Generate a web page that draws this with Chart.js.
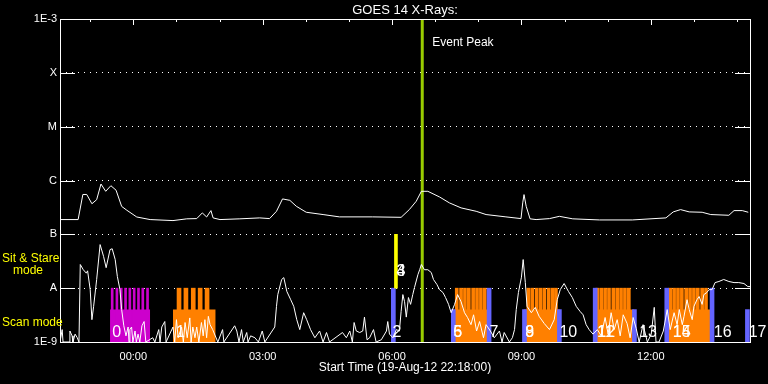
<!DOCTYPE html>
<html>
<head>
<meta charset="utf-8">
<script src="https://cdn.jsdelivr.net/npm/chart.js@4.4.1/dist/chart.umd.min.js"></script>
<style>
  html, body { margin: 0; padding: 0; background: #000; }
  canvas { display: block; }
</style>
</head>
<body>
<canvas id="goes" width="768" height="384"></canvas>
<script>
// time axis: hours from 00:00 UT 20-Aug-12 (plot starts 19-Aug-12 22:18)
const T_START = -1.7, T_END = 14.3;

// GOES 14, 1-8 A channel (W/m^2)
const longT = [-1.70,-1.28,-1.17,-1.08,-0.96,-0.85,-0.75,-0.64,-0.52,-0.40,
  -0.27,-0.15,0.08,0.39,0.92,1.24,1.47,1.60,1.70,1.80,
  1.85,2.01,2.47,2.93,3.16,3.32,3.46,3.63,3.78,4.01,
  4.40,4.78,5.55,6.21,6.40,6.56,6.68,6.83,7.10,7.33,
  7.60,7.95,8.18,8.64,8.99,9.03,9.06,9.11,9.20,9.34,
  9.65,9.88,10.19,10.81,11.57,12.35,12.52,12.69,12.89,13.19,
  13.39,13.81,13.93,14.12,14.26];
const longV = [1.88e-7,1.88e-7,5.5e-7,5.5e-7,3.7e-7,4.4e-7,8.6e-7,6.3e-7,8.0e-7,6.6e-7,
  3.3e-7,2.8e-7,2.1e-7,1.88e-7,1.80e-7,1.94e-7,1.96e-7,2.5e-7,2.1e-7,2.76e-7,
  2.02e-7,1.88e-7,1.94e-7,2.02e-7,1.96e-7,2.68e-7,4.55e-7,4.28e-7,3.32e-7,2.57e-7,
  2.33e-7,2.11e-7,2.11e-7,2.07e-7,2.88e-7,4.11e-7,6.3e-7,6.3e-7,4.95e-7,3.84e-7,
  3.10e-7,2.68e-7,2.33e-7,2.11e-7,1.96e-7,3.84e-7,5.47e-7,3.32e-7,1.94e-7,1.88e-7,
  1.96e-7,2.16e-7,1.94e-7,1.85e-7,1.85e-7,2.02e-7,2.61e-7,2.88e-7,2.61e-7,2.57e-7,
  2.33e-7,2.26e-7,2.76e-7,2.76e-7,2.57e-7];

// GOES 14, 0.5-4 A channel (W/m^2)
const shortT = [-1.70,-1.65,-1.63,-1.49,-1.47,-1.42,-1.40,-1.35,-1.30,-1.26,
  -1.23,-1.16,-1.09,-1.06,-1.00,-0.96,-0.92,-0.85,-0.77,-0.69,
  -0.63,-0.54,-0.49,-0.42,-0.37,-0.31,-0.27,-0.22,-0.17,-0.12,
  -0.10,-0.08,-0.04,-0.01,0.04,0.07,0.11,0.15,0.20,0.25,
  0.29,0.45,0.50,0.59,0.62,0.66,0.73,0.76,0.92,0.96,
  1.00,1.04,1.12,1.16,1.20,1.25,1.31,1.34,1.38,1.43,
  1.47,1.52,1.58,1.62,1.66,1.70,1.74,1.78,1.84,1.96,
  2.07,2.10,2.35,2.40,2.45,2.51,2.55,2.63,2.66,2.72,
  2.82,2.90,2.99,3.05,3.28,3.32,3.35,3.44,3.49,3.56,
  3.65,3.72,3.79,3.86,3.95,4.02,4.11,4.21,4.32,4.40,
  4.48,4.55,4.85,4.94,5.02,5.08,5.12,5.17,5.25,5.32,
  5.36,5.42,5.48,5.57,5.63,5.75,5.87,5.90,5.94,6.02,
  6.10,6.17,6.21,6.25,6.29,6.33,6.38,6.43,6.48,6.52,
  6.60,6.64,6.68,6.75,6.83,6.91,6.96,7.04,7.10,7.18,
  7.24,7.31,7.37,7.45,7.52,7.60,7.68,7.75,7.83,7.89,
  7.96,8.03,8.12,8.18,8.28,8.37,8.49,8.55,8.60,8.72,
  8.79,8.84,8.88,8.93,9.00,9.04,9.09,9.13,9.23,9.32,
  9.41,9.53,9.65,9.76,9.83,9.90,9.99,10.09,10.18,10.27,
  10.36,10.43,10.50,10.57,10.66,10.76,10.85,10.94,11.01,11.08,
  11.15,11.22,11.29,11.36,11.45,11.52,11.59,11.66,11.73,11.82,
  11.92,12.01,12.08,12.12,12.19,12.29,12.38,12.45,12.54,12.61,
  12.66,12.73,12.77,12.84,12.89,12.96,13.00,13.07,13.12,13.19,
  13.23,13.30,13.35,13.42,13.49,13.58,13.69,13.81,13.93,14.04,
  14.16,14.25,14.30];
const shortV = [1.0e-9,1.7e-9,1.0e-9,1.0e-9,1.6e-9,1.3e-9,1.0e-9,1.4e-9,1.2e-9,1.0e-9,
  2.75e-8,2.2e-8,1.9e-8,2.1e-8,9.4e-9,2.6e-9,4.6e-9,1.45e-8,6.45e-8,3.9e-8,
  2.4e-8,5.2e-8,5.4e-8,3.4e-8,1.65e-8,9.4e-9,4.0e-9,2.0e-9,1.3e-9,1.9e-9,
  1.0e-9,1.7e-9,1.9e-9,1.0e-9,1.6e-9,1.0e-9,1.4e-9,1.0e-9,2.0e-9,2.4e-9,
  1.0e-9,1.2e-9,1.0e-9,1.7e-9,1.0e-9,1.9e-9,2.4e-9,1.0e-9,1.9e-9,1.0e-9,
  2.6e-9,1.2e-9,1.9e-9,1.0e-9,2.3e-9,1.2e-9,2.8e-9,1.0e-9,1.9e-9,1.2e-9,
  1.9e-9,1.0e-9,2.3e-9,1.3e-9,2.6e-9,1.2e-9,3.0e-9,2.1e-9,1.7e-9,1.0e-9,
  1.7e-9,1.0e-9,2.0e-9,1.6e-9,1.0e-9,1.7e-9,1.0e-9,1.5e-9,1.0e-9,1.3e-9,
  1.2e-9,1.0e-9,1.6e-9,1.0e-9,1.9e-9,4.6e-9,7.6e-9,1.45e-8,1.57e-8,8.7e-9,
  6.1e-9,4.6e-9,2.6e-9,1.7e-9,3.5e-9,2.6e-9,1.7e-9,1.2e-9,1.6e-9,1.0e-9,
  1.5e-9,1.0e-9,1.5e-9,1.2e-9,1.6e-9,1.0e-9,2.3e-9,1.6e-9,1.5e-9,1.6e-9,
  2.9e-9,1.1e-9,1.2e-9,1.7e-9,1.0e-9,1.1e-9,1.6e-9,2.4e-9,1.4e-9,1.2e-9,
  1.7e-9,1.6e-9,3.7e-9,7.6e-9,5.6e-9,2.9e-9,6.7e-9,5.0e-9,7.6e-9,1.03e-8,
  1.79e-8,2.2e-8,2.75e-8,2.2e-8,2.2e-8,1.95e-8,1.45e-8,1.17e-8,9.4e-9,8.3e-9,
  6.7e-9,5.0e-9,3.5e-9,5.0e-9,7.6e-9,5.6e-9,3.5e-9,2.85e-9,2.1e-9,3.2e-9,
  1.6e-9,2.4e-9,1.2e-9,2.1e-9,1.6e-9,1.2e-9,1.6e-9,1.0e-9,1.5e-9,1.0e-9,
  1.2e-9,1.7e-9,4.0e-9,8.3e-9,1.6e-8,3.4e-8,1.27e-8,4.6e-9,3.5e-9,4.4e-9,
  3.0e-9,2.2e-9,1.7e-9,2.6e-9,6.1e-9,9.4e-9,1.22e-8,8.7e-9,6.7e-9,4.6e-9,
  3.7e-9,3.2e-9,2.1e-9,1.7e-9,1.4e-9,1.7e-9,1.3e-9,2.85e-9,1.4e-9,3.5e-9,
  1.7e-9,2.6e-9,1.3e-9,3.2e-9,2.2e-9,1.2e-9,2.85e-9,1.8e-9,1.0e-9,2.1e-9,
  1.0e-9,1.4e-9,4.4e-9,1.0e-9,1.0e-9,1.6e-9,4.0e-9,1.7e-9,3.5e-9,2.1e-9,
  4.0e-9,2.1e-9,3.0e-9,6.1e-9,4.0e-9,2.6e-9,4.6e-9,6.1e-9,7.0e-9,5.0e-9,
  7.6e-9,8.3e-9,9.4e-9,9.4e-9,1.27e-8,1.33e-8,1.45e-8,1.33e-8,1.27e-8,1.27e-8,
  1.22e-8,1.07e-8,1.07e-8];

// axes
const yTickVals = [1e-9, 1e-8, 1e-7, 1e-6, 1e-5, 1e-4, 1e-3];
const yTickLabels = ["1E-9", "A", "B", "C", "M", "X", "1E-3"];
const xTickVals = [0, 3, 6, 9, 12];
const xTickLabels = ["00:00", "03:00", "06:00", "09:00", "12:00"];

const eventPeakT = 6.70;

// observation timeline (levels on the flux axis)
const FLOOR = 1e-9, BASE = 4e-9, TOOTH = 1e-8;
const magentaSpans = [[-0.54, 0.39]];
const magentaTeeth = [-0.49, -0.38, -0.28, -0.18, -0.08, 0.02, 0.12, 0.22, 0.33];
const orangeSpans = [[0.92, 1.91], [7.40, 8.25], [9.05, 9.90], [10.73, 11.62], [12.40, 13.40]];
const orangeWideTeeth = [1.06, 1.22, 1.39, 1.55, 1.71];
const orangeTeeth = [7.50, 7.60, 7.69, 7.78, 7.88, 7.97, 8.06, 8.15,
  9.16, 9.25, 9.35, 9.44, 9.53, 9.63, 9.72, 9.80,
  10.76, 10.85, 10.94, 11.03, 11.13, 11.22, 11.31, 11.40, 11.49,
  12.45, 12.54, 12.63, 12.72, 12.82, 12.91, 13.00, 13.09, 13.19, 13.28];
const blueT = [6.03, 7.42, 8.25, 9.07, 9.88, 10.71, 11.62, 12.37, 13.42, 14.24];
const blueTop = [1e-8, 4e-9, 1e-8, 4e-9, 4e-9, 1e-8, 4e-9, 1e-8, 1e-8, 4e-9];
const yellowT = [6.09];
const yellowTop = [1e-7];

const obsLabels = ["0","1","2","3","4","5","6","7","8","9","10","11","12","13","14","15","16","17"];
const obsLabelT = [-0.49, 0.99, 6.01, 6.10, 6.10, 7.42, 7.42, 8.26, 9.09, 9.09,
  9.88, 10.76, 10.76, 11.73, 12.51, 12.51, 13.46, 14.27];
const obsLabelLevel = [1.5e-9, 1.5e-9, 1.5e-9, 2.0e-8, 2.0e-8, 1.5e-9, 1.5e-9, 1.5e-9, 1.5e-9, 1.5e-9,
  1.5e-9, 1.5e-9, 1.5e-9, 1.5e-9, 1.5e-9, 1.5e-9, 1.5e-9, 1.5e-9];

const pts = (ts, vs) => ts.map((t, i) => ({x: t, y: vs[i]}));
const bars = (ts, lo, top) => ts.map((t, i) => ({x: t, y: [lo, Array.isArray(top) ? top[i] : top]}));
function spanData(spans, level) {
  const d = [];
  spans.forEach(([a, b]) => { d.push({x: a, y: level}, {x: b, y: level}, {x: b, y: null}); });
  return d;
}

const FONT = "Liberation Sans";

const decor = {
  id: "decor",
  beforeDraw(chart) {
    const ctx = chart.ctx;
    ctx.save();
    ctx.fillStyle = "#000";
    ctx.fillRect(0, 0, chart.width, chart.height);
    ctx.restore();
  },
  afterDatasetsDraw(chart) {
    const {ctx, chartArea: a, scales: {x, y}} = chart;
    ctx.save();
    ctx.strokeStyle = "#fff";
    ctx.lineWidth = 1;
    ctx.strokeRect(a.left + 0.5, a.top + 0.5, a.right - a.left, a.bottom - a.top);
    ctx.beginPath();
    yTickVals.forEach(v => {
      const py = Math.round(y.getPixelForValue(v)) + 0.5;
      ctx.moveTo(a.left, py); ctx.lineTo(a.left + 15, py);
      ctx.moveTo(a.right - 15, py); ctx.lineTo(a.right, py);
    });
    for (let h = Math.ceil(T_START); h <= T_END; h++) {
      const px = Math.round(x.getPixelForValue(h)) + 0.5;
      const len = h % 3 === 0 ? 6 : 3;
      ctx.moveTo(px, a.top); ctx.lineTo(px, a.top + len);
    }
    ctx.stroke();

    ctx.fillStyle = "#fff";
    ctx.textBaseline = "middle";
    ctx.font = "13px '" + FONT + "'";
    ctx.textAlign = "center";
    ctx.fillText("GOES 14 X-Rays:", (a.left + a.right) / 2, 10);

    ctx.textAlign = "left";
    ctx.font = "12px '" + FONT + "'";
    ctx.fillText("Event Peak", x.getPixelForValue(eventPeakT) + 10, a.top + 24);

    ctx.font = "16px '" + FONT + "'";
    obsLabels.forEach((s, i) => {
      ctx.fillText(s, x.getPixelForValue(obsLabelT[i]), y.getPixelForValue(obsLabelLevel[i]));
    });

    ctx.fillStyle = "#ffff00";
    ctx.font = "12px '" + FONT + "'";
    ctx.fillText("Sit & Stare", 2, y.getPixelForValue(3.6e-8));
    ctx.fillText("mode", 13, y.getPixelForValue(2.1e-8));
    ctx.fillText("Scan mode", 2, y.getPixelForValue(2.25e-9));
    ctx.restore();
  }
};

new Chart(document.getElementById("goes"), {
  type: "line",
  data: {
    datasets: [
      {label: "0.5-4 A", data: pts(shortT, shortV), borderColor: "#fff", borderWidth: 1,
        pointRadius: 0, tension: 0, order: 1},
      {label: "1-8 A", data: pts(longT, longV), borderColor: "#fff", borderWidth: 1,
        pointRadius: 0, tension: 0, order: 1},
      {label: "Event Peak", data: [{x: eventPeakT, y: 1e-9}, {x: eventPeakT, y: 1e-3}],
        borderColor: "#99cc00", borderWidth: 3, pointRadius: 0, order: 2},
      {type: "bar", label: "sit", data: bars(yellowT, TOOTH, yellowTop), backgroundColor: "#ffff00",
        barThickness: 3, grouped: false, order: 3},
      {type: "bar", label: "marks", data: bars(blueT, FLOOR, blueTop), backgroundColor: "#6464ff",
        barThickness: 4, grouped: false, order: 4},
      {type: "bar", label: "raster", data: bars(orangeTeeth, FLOOR, TOOTH), backgroundColor: "#ff8000",
        barThickness: 3, grouped: false, order: 5},
      {type: "bar", label: "raster1", data: bars(orangeWideTeeth, FLOOR, TOOTH), backgroundColor: "#ff8000",
        barThickness: 4, grouped: false, order: 5},
      {type: "bar", label: "raster0", data: bars(magentaTeeth, FLOOR, TOOTH), backgroundColor: "#cc00cc",
        barThickness: 2, grouped: false, order: 5},
      {label: "scan", data: spanData(orangeSpans, BASE), borderWidth: 0, pointRadius: 0,
        backgroundColor: "#ff8000", fill: "start", order: 6},
      {label: "scan0", data: spanData(magentaSpans, BASE), borderWidth: 0, pointRadius: 0,
        backgroundColor: "#cc00cc", fill: "start", order: 6}
    ]
  },
  options: {
    responsive: false,
    animation: false,
    events: [],
    layout: {padding: {top: 19, right: 18, left: 0, bottom: 0}},
    plugins: {legend: {display: false}, tooltip: {enabled: false}, title: {display: false}},
    scales: {
      x: {
        type: "linear", min: T_START, max: T_END, offset: false,
        afterBuildTicks: ax => { ax.ticks = xTickVals.map(v => ({value: v})); },
        afterFit: ax => { ax.height = 42; },
        grid: {display: false, drawTicks: false},
        border: {display: false},
        ticks: {color: "#fff", font: {family: FONT, size: 11}, padding: 8, maxRotation: 0, autoSkip: false,
          callback: v => { const i = xTickVals.indexOf(v); return i < 0 ? "" : xTickLabels[i]; }},
        title: {display: true, text: "Start Time (19-Aug-12 22:18:00)", color: "#fff",
          font: {family: FONT, size: 12}, padding: {top: 0, bottom: 9}}
      },
      y: {
        type: "logarithmic", min: 1e-9, max: 1e-3,
        afterBuildTicks: ax => { ax.ticks = yTickVals.map(v => ({value: v})); },
        afterFit: ax => { ax.width = 60; },
        grid: {color: "#fff", lineWidth: 1, drawTicks: false},
        border: {display: false, dash: [1, 5]},
        ticks: {color: "#fff", font: {family: FONT, size: 11}, padding: 3, autoSkip: false,
          callback: v => { const i = yTickVals.indexOf(v); return i < 0 ? "" : yTickLabels[i]; }}
      }
    }
  },
  plugins: [decor]
});
</script>
</body>
</html>
